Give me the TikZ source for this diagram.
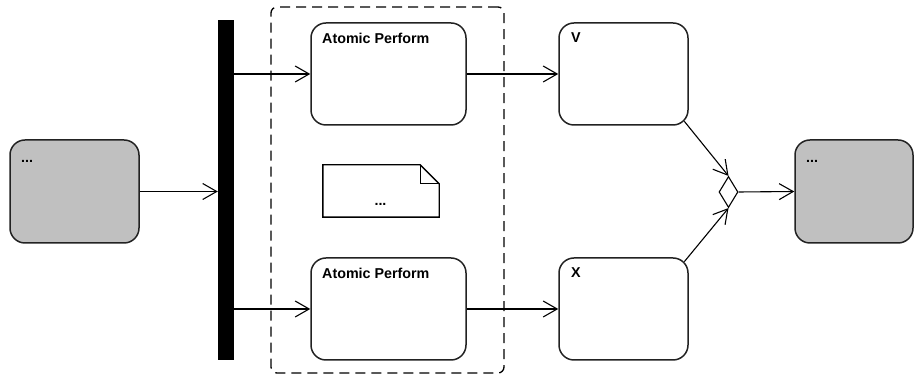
\documentclass[tikz,border=0pt]{standalone}
\usepackage{fontspec}
\setmainfont{Liberation Sans}
\usetikzlibrary{arrows.meta,shapes.geometric}
\definecolor{edge}{HTML}{222222}
\definecolor{boxgray}{HTML}{C0C0C0}
\tikzset{
  x=1pt,y=1pt,
  act/.style={draw=edge,line width=1.5pt,rounded corners=15pt,minimum width=155pt,minimum height=102pt,inner sep=0pt,fill=white},
  gact/.style={act,fill=boxgray,minimum width=129pt,minimum height=103pt},
  lbl/.style={inner sep=0pt,font=\fontsize{14.3}{16}\selectfont\bfseries},
  flow/.style={draw=black,line width=1.1pt,-{Straight Barb[length=14pt,width=16pt,line width=1.1pt]}},
}
\begin{document}
\begin{tikzpicture}
\useasboundingbox (0,0) rectangle (914,377);
% dashed region
\node[draw=black,line width=1.3pt,dash pattern=on 10pt off 6pt,rounded corners=6pt,minimum width=233pt,minimum height=366pt,inner sep=0pt] (region) at (387.5,187) {};
% left gray box
\node[gact] (start) at (74.5,185.5) {};
\node[lbl,anchor=base west] (startl) at (21,214) {...};
% fork bar
\node[fill=black,minimum width=16pt,minimum height=340pt,inner sep=0pt] (fork) at (226,187) {};
% actions
\node[act] (ap1) at (388.5,303) {};
\node[lbl,anchor=base west] (ap1l) at (322,333) {Atomic Perform};
\node[act] (ap2) at (388.5,68) {};
\node[lbl,anchor=base west] (ap2l) at (322,98) {Atomic Perform};
\node[act,minimum width=129pt] (v) at (623.5,303) {};
\node[lbl,anchor=base west] (vl) at (571,334) {V};
\node[act,minimum width=129pt] (x) at (623.5,68) {};
\node[lbl,anchor=base west] (xl) at (571,99) {X};
% note
\node[minimum width=116pt,minimum height=52pt,inner sep=0pt] (note) at (381,186) {};
\draw[line width=1.4pt,black] (note.south west) -- (note.north west) -- ([xshift=-19pt]note.north east) -- ([yshift=-19pt]note.north east) -- (note.south east) -- cycle;
\draw[line width=1.4pt,black] ([xshift=-19pt]note.north east) -- ([xshift=-19pt,yshift=-19pt]note.north east) -- ([yshift=-19pt]note.north east);
\node[lbl,anchor=base] (notel) at (380.5,171) {...};
% merge
\node[draw=black,line width=1.1pt,diamond,minimum width=19pt,minimum height=31pt,inner sep=0pt,fill=white] (merge) at (728.5,185) {};
% right gray box
\node[gact,minimum width=118pt] (end) at (854,185.5) {};
\node[lbl,anchor=base west] (endl) at (806,214) {...};
% flows
\draw[flow] (start.east) -- (start.east -| fork.west);
\draw[flow] (ap1.west -| fork.east) -- (ap1.west);
\draw[flow] (ap2.west -| fork.east) -- (ap2.west);
\draw[flow] (ap1.east) -- (v.west);
\draw[flow] (ap2.east) -- (x.west);
\draw[flow] ([shift={(-4.4pt,4.4pt)}]v.south east) -- (merge.north);
\draw[flow] ([shift={(-4.4pt,-4.4pt)}]x.north east) -- (merge.south);
\draw[flow] (merge.east) -- (end.west);
\end{tikzpicture}
\end{document}
